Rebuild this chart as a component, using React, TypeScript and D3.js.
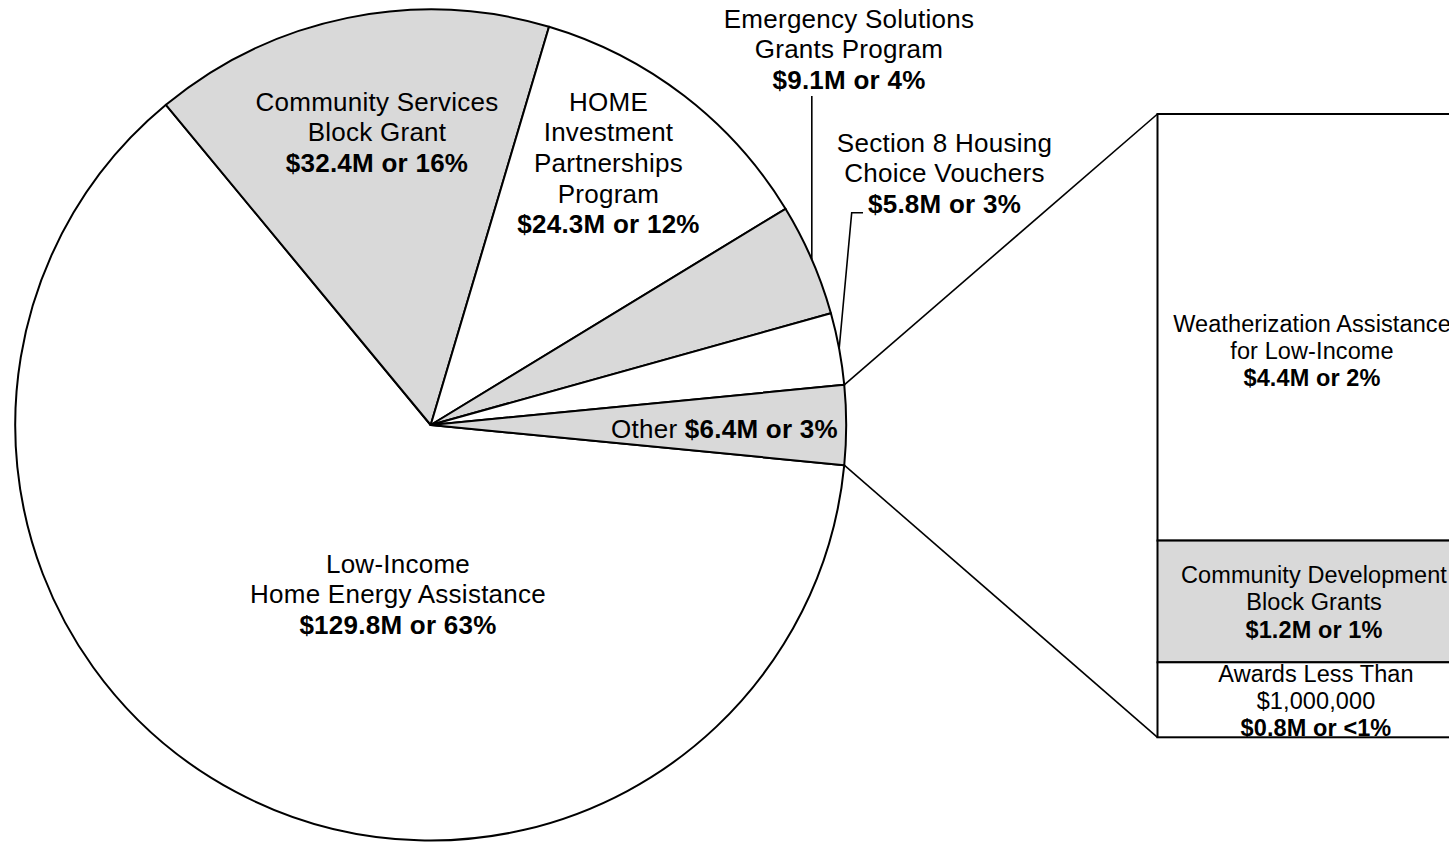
import React from 'react';
import * as d3 from 'd3';

// ---- data ----
const pieNames = [
  'Low-Income Home Energy Assistance',
  'Community Services Block Grant',
  'HOME Investment Partnerships Program',
  'Emergency Solutions Grants Program',
  'Section 8 Housing Choice Vouchers',
  'Other',
];
const pieValues = [129.8, 32.4, 24.3, 9.1, 5.8, 6.4];
const pieTextLines = [
  ['Low-Income', 'Home Energy Assistance'],
  ['Community Services', 'Block Grant'],
  ['HOME', 'Investment', 'Partnerships', 'Program'],
  ['Emergency Solutions', 'Grants Program'],
  ['Section 8 Housing', 'Choice Vouchers'],
  ['Other'],
];
const pieValueText = ['$129.8M or 63%', '$32.4M or 16%', '$24.3M or 12%', '$9.1M or 4%', '$5.8M or 3%', '$6.4M or 3%'];

const barNames = ['Weatherization Assistance for Low-Income', 'Community Development Block Grants', 'Awards Less Than $1,000,000'];
const barValues = [4.38, 1.25, 0.77];
const barTextLines = [
  ['Weatherization Assistance', 'for Low-Income'],
  ['Community Development', 'Block Grants'],
  ['Awards Less Than', '$1,000,000'],
];
const barValueText = ['$4.4M or 2%', '$1.2M or 1%', '$0.8M or <1%'];

// ---- styles / layout ----
const GRAY = '#d9d9d9';
const pieFills = ['#ffffff', GRAY, '#ffffff', GRAY, '#ffffff', GRAY];
const barFills = ['#ffffff', GRAY, '#ffffff'];
const FONT = "'Liberation Sans', Arial, sans-serif";
const W = 1449;
const H = 842;
const CX = 430.7;
const CY = 425;
const R = 415.5;
const BAR_X = 1157.5;
const BAR_W = 312;
const BAR_TOP = 114;
const BAR_BOTTOM = 737.3;

// label anchor (center x, first baseline) for each pie slice
const pieLabelPos = [
  { x: 398, y: 572.7 },
  { x: 377, y: 110.7 },
  { x: 608.5, y: 110.7 },
  { x: 849, y: 27.7 },
  { x: 944.5, y: 151.7 },
  { x: 724.5, y: 438 },
];
const barLabelPos = [
  { x: 1312, y: 331.5 },
  { x: 1314, y: 583 },
  { x: 1316, y: 681.5 },
];
const PIE_LH = 30.6;
const BAR_LH = 27.4;

export default function App() {
  const total = d3.sum(pieValues);
  const otherAngle = (2 * Math.PI * pieValues[pieValues.length - 1]) / total;
  const start = Math.PI / 2 + otherAngle / 2;
  const pie = d3
    .pie<number>()
    .sort(null)
    .value((d) => d)
    .startAngle(start)
    .endAngle(start + 2 * Math.PI);
  const arcs = pie(pieValues);
  const arcGen = d3.arc<d3.PieArcDatum<number>>().innerRadius(0).outerRadius(R);

  const pt = (a: number, r = R) => [CX + r * Math.sin(a), CY - r * Math.cos(a)];

  const other = arcs[arcs.length - 1];
  const topJoin = pt(other.startAngle);
  const botJoin = pt(other.endAngle);

  const esg = arcs[3];
  const esgPt = pt((esg.startAngle + esg.endAngle) / 2);
  const sec8 = arcs[4];
  const secPt = pt((sec8.startAngle + sec8.endAngle) / 2);

  const barTotal = d3.sum(barValues);
  const y = d3.scaleLinear().domain([0, barTotal]).range([BAR_BOTTOM, BAR_TOP]);
  const barSegs = barValues.map((v, i) => {
    const y0 = d3.sum(barValues.slice(i + 1));
    const y1 = y0 + v;
    return { y: y(y1), h: y(y0) - y(y1), v };
  });

  const pieTextStyle = { fontFamily: FONT, fontSize: 26, letterSpacing: 0.25 } as any;
  const barTextStyle = { fontFamily: FONT, fontSize: 23.5, letterSpacing: 0.1 } as any;

  return (
    <svg
      width={W}
      height={H}
      style={{ position: 'absolute', left: 0, top: 0, background: '#fff' }}
    >
      <defs>
        <clipPath id="barclip">
          <rect x={BAR_X} y={BAR_TOP} width={BAR_W} height={BAR_BOTTOM - BAR_TOP} />
        </clipPath>
      </defs>
      <g transform={`translate(${CX},${CY})`}>
        {arcs.map((a, i) => (
          <path key={pieNames[i]} d={arcGen(a) || ''} fill={pieFills[i]} stroke="#000" strokeWidth={2} strokeLinejoin="round" />
        ))}
      </g>

      {barSegs.map((s, i) => (
        <rect key={barNames[i]} x={BAR_X} y={s.y} width={BAR_W} height={s.h} fill={barFills[i]} stroke="#000" strokeWidth={2} />
      ))}

      <line x1={topJoin[0]} y1={topJoin[1]} x2={BAR_X} y2={BAR_TOP} stroke="#000" strokeWidth={1.6} />
      <line x1={botJoin[0]} y1={botJoin[1]} x2={BAR_X} y2={BAR_BOTTOM} stroke="#000" strokeWidth={1.6} />

      {/* leader lines */}
      <line x1={esgPt[0]} y1={esgPt[1]} x2={esgPt[0]} y2={96} stroke="#000" strokeWidth={1.6} />
      <polyline
        points={`${secPt[0]},${secPt[1]} 851.7,212.7 863,212.7`}
        fill="none"
        stroke="#000"
        strokeWidth={1.6}
      />

      {/* pie labels */}
      {pieTextLines.map((lines, i) => {
        const p = pieLabelPos[i];
        if (i === pieTextLines.length - 1) {
          return (
            <text key={i} x={p.x} y={p.y} textAnchor="middle" style={pieTextStyle}>
              <tspan>{lines[0]} </tspan>
              <tspan fontWeight="bold">{pieValueText[i]}</tspan>
            </text>
          );
        }
        return (
          <text key={i} textAnchor="middle" style={pieTextStyle}>
            {lines.map((l, j) => (
              <tspan key={j} x={p.x} y={p.y + j * PIE_LH}>
                {l}
              </tspan>
            ))}
            <tspan x={p.x} y={p.y + lines.length * PIE_LH} fontWeight="bold">
              {pieValueText[i]}
            </tspan>
          </text>
        );
      })}

      {/* bar labels */}
      <g clipPath="url(#barclip)">
        {barTextLines.map((lines, i) => {
          const p = barLabelPos[i];
          return (
            <text key={i} textAnchor="middle" style={barTextStyle}>
              {lines.map((l, j) => (
                <tspan key={j} x={p.x} y={p.y + j * BAR_LH}>
                  {l}
                </tspan>
              ))}
              <tspan x={p.x} y={p.y + lines.length * BAR_LH} fontWeight="bold">
                {barValueText[i]}
              </tspan>
            </text>
          );
        })}
      </g>
    </svg>
  );
}
